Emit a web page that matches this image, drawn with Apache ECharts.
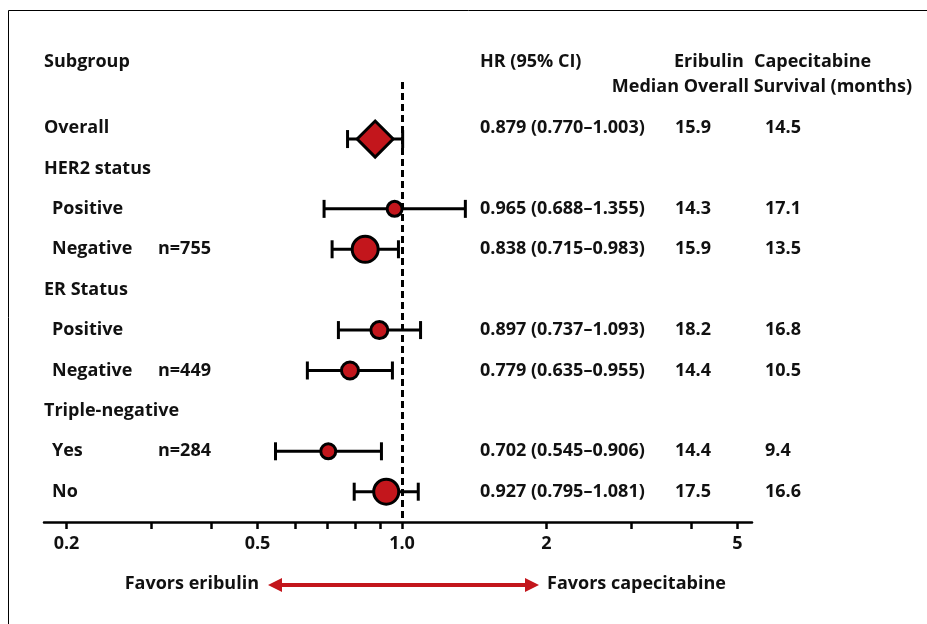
<!DOCTYPE html>
<html>
<head>
<meta charset="utf-8">
<script src="https://cdn.jsdelivr.net/npm/echarts@6/dist/echarts.min.js"></script>
<style>
  html, body { margin: 0; background: #fff; }
  #main { width: 927px; height: 624px; }
</style>
</head>
<body>
<div id="main"></div>
<script>
// forest plot rows, top to bottom
var rowLabels = ['Overall', 'HER2 status', 'Positive', 'Negative', 'ER Status', 'Positive', 'Negative', 'Triple-negative', 'Yes', 'No'];
var rowIsSub = [false, false, true, true, false, true, true, false, true, true];
var rowN = ['', '', '', 'n=755', '', '', 'n=449', '', 'n=284', ''];
var hr = [0.879, null, 0.965, 0.838, null, 0.897, 0.779, null, 0.702, 0.927];
var ciLow = [0.770, null, 0.688, 0.715, null, 0.737, 0.635, null, 0.545, 0.795];
var ciHigh = [1.003, null, 1.355, 0.983, null, 1.093, 0.955, null, 0.906, 1.081];
var osEribulin = ['15.9', '', '14.3', '15.9', '', '18.2', '14.4', '', '14.4', '17.5'];
var osCapecitabine = ['14.5', '', '17.1', '13.5', '', '16.8', '10.5', '', '9.4', '16.6'];
var tickValues = [0.2, 0.3, 0.4, 0.5, 0.6, 0.7, 0.8, 0.9, 1, 2, 3, 4, 5];
var tickLabelValues = [0.2, 0.5, 1, 2, 5];
var tickLabels = ['0.2', '0.5', '1.0', '2', '5'];

// styles
var FONT = 'bold 18px "Open Sans", sans-serif';
var RED = '#c3161c';
var markerPx = [36, 0, 15, 26, 0, 17, 17, 0, 15, 25];
var overallShift = 11; // overall diamond sits a bit below its label

var lg = function (v) { return Math.log(v) / Math.LN10; };

var chart = echarts.init(document.getElementById('main'));

var pointData = [];
var ciData = [];
hr.forEach(function (v, i) {
  if (v == null) return;
  pointData.push({
    value: [lg(v), i],
    symbol: i === 0 ? 'diamond' : 'circle',
    symbolSize: markerPx[i],
    symbolOffset: [0, i === 0 ? overallShift : 0]
  });
  ciData.push([lg(ciLow[i]), lg(ciHigh[i]), i]);
});

var option = {
  animation: false,
  grid: { left: 44, right: 175, top: 82, bottom: 102 },
  xAxis: {
    type: 'value',
    min: lg(0.1795),
    max: lg(5.36),
    splitLine: { show: false },
    axisLine: { onZero: false, lineStyle: { color: '#000', width: 2.5 } },
    axisTick: {
      customValues: tickValues.map(lg),
      length: 7,
      lineStyle: { color: '#000', width: 2.5 }
    },
    axisLabel: {
      customValues: tickLabelValues.map(lg),
      margin: 13,
      color: '#111',
      fontSize: 18,
      fontWeight: 'bold',
      fontFamily: 'Open Sans',
      formatter: function (v) {
        for (var k = 0; k < tickLabelValues.length; k++) {
          if (Math.abs(lg(tickLabelValues[k]) - v) < 1e-6) return tickLabels[k];
        }
        return '';
      }
    }
  },
  yAxis: {
    type: 'value',
    inverse: true,
    min: -1.14,
    max: 9.75,
    show: false
  },
  series: [
    {
      type: 'custom',
      data: ciData,
      z: 2,
      renderItem: function (params, api) {
        var row = api.value(2);
        var p0 = api.coord([api.value(0), row]);
        var p1 = api.coord([api.value(1), row]);
        var y = p0[1] + (row === 0 ? overallShift : 0);
        var h = 9;
        var st = { stroke: '#000', lineWidth: 3 };
        return {
          type: 'group',
          children: [
            { type: 'line', shape: { x1: p0[0], y1: y, x2: p1[0], y2: y }, style: st },
            { type: 'line', shape: { x1: p0[0], y1: y - h, x2: p0[0], y2: y + h }, style: st },
            { type: 'line', shape: { x1: p1[0], y1: y - h, x2: p1[0], y2: y + h }, style: st }
          ]
        };
      }
    },
    {
      type: 'scatter',
      data: pointData,
      z: 3,
      itemStyle: { color: RED, borderColor: '#000', borderWidth: 3, opacity: 1 },
      markLine: {
        silent: true,
        symbol: 'none',
        label: { show: false },
        lineStyle: { color: '#000', width: 3, type: [7, 4] },
        data: [{ xAxis: 0 }]
      }
    }
  ]
};
chart.setOption(option);

// text columns
function txt(s, x, y, align) {
  return {
    type: 'text',
    silent: true,
    style: {
      text: s, x: x, y: y, font: FONT, fill: '#111',
      textAlign: align || 'left', textVerticalAlign: 'middle'
    }
  };
}

var g = [
  {
    type: 'rect', silent: true,
    shape: { x: 8.5, y: 10.5, width: 1000, height: 700 },
    style: { fill: 'none', stroke: '#000', lineWidth: 1 }
  },
  txt('Subgroup', 44, 62),
  txt('HR (95% CI)', 480, 62),
  txt('Eribulin', 674, 62),
  txt('Capecitabine', 754, 62),
  txt('Median Overall Survival (months)', 912, 87, 'right'),
  txt('Favors eribulin', 259, 584, 'right'),
  txt('Favors capecitabine', 547, 584),
  {
    type: 'line', silent: true,
    shape: { x1: 280, y1: 585, x2: 527, y2: 585 },
    style: { stroke: RED, lineWidth: 4 }
  },
  {
    type: 'polygon', silent: true,
    shape: { points: [[268, 585], [282, 578], [282, 592]] },
    style: { fill: RED }
  },
  {
    type: 'polygon', silent: true,
    shape: { points: [[539, 585], [525, 578], [525, 592]] },
    style: { fill: RED }
  }
];

rowLabels.forEach(function (label, i) {
  var y = chart.convertToPixel({ yAxisIndex: 0 }, i);
  g.push(txt(label, rowIsSub[i] ? 52 : 44, y));
  if (rowN[i]) g.push(txt(rowN[i], 158, y));
  if (hr[i] != null) {
    g.push(txt(hr[i].toFixed(3) + ' (' + ciLow[i].toFixed(3) + '\u2013' + ciHigh[i].toFixed(3) + ')', 480, y));
  }
  if (osEribulin[i]) g.push(txt(osEribulin[i], 675, y));
  if (osCapecitabine[i]) g.push(txt(osCapecitabine[i], 765, y));
});

chart.setOption({ graphic: g });
</script>
</body>
</html>
